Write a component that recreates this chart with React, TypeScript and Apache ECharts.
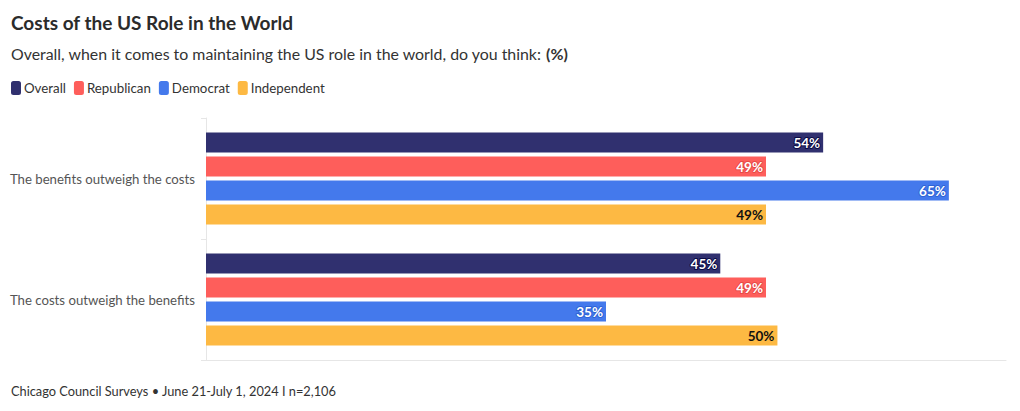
import React, { useEffect, useRef } from "react";
import * as echarts from "echarts";

const categories = ["The benefits outweigh the costs", "The costs outweigh the benefits"];
const seriesNames = ["Overall", "Republican", "Democrat", "Independent"];
const overall = [54, 45];
const republican = [49, 49];
const democrat = [65, 35];
const independent = [49, 50];
const colors = ["#30306f", "#fe5e5b", "#4479ec", "#fdb943"];
const labelColors = ["#ffffff", "#ffffff", "#ffffff", "#111111"];
const labelBorders = ["#0b0b45", "#e84a47", "#2f63d6", "transparent"];

const FONT = "Lato, 'Source Sans Pro', 'Noto Sans', sans-serif";

export default function App() {
  const ref = useRef<HTMLDivElement>(null);
  useEffect(() => {
    document.body.style.margin = "0";
    if (!ref.current) return;
    const chart = echarts.init(ref.current, undefined, { renderer: "svg" });
    const values = [overall, republican, democrat, independent];
    chart.setOption({
      animation: false,
      textStyle: { fontFamily: FONT },
      title: [
        {
          text: "Costs of the US Role in the World",
          left: 6,
          top: 8,
          textStyle: { fontSize: 19, fontWeight: "bold", color: "#2b2b2b", fontFamily: FONT },
        },
        {
          text: "{n|Overall, when it comes to maintaining the US role in the world, do you think: }{b|(%)}",
          left: 6,
          top: 40,
          textStyle: {
            fontWeight: "normal",
            rich: {
              n: { fontSize: 15.9, color: "#333333", fontWeight: "normal", fontFamily: FONT },
              b: { fontSize: 15.9, color: "#333333", fontWeight: "bold", fontFamily: FONT },
            },
          },
        },
        {
          text: "Chicago Council Surveys • June 21-July 1, 2024 I n=2,106",
          left: 6,
          top: 379,
          textStyle: { fontSize: 12.8, color: "#333333", fontWeight: "normal", fontFamily: FONT },
        },
      ],
      legend: {
        left: 6,
        top: 76,
        icon: "roundRect",
        itemWidth: 10,
        itemHeight: 14,
        itemGap: 8,
        textStyle: { fontSize: 13.3, color: "#333333", padding: [0, 0, 0, -2], fontFamily: FONT },
        data: seriesNames,
      },
      grid: { left: 206, top: 118, width: 800, height: 242, containLabel: false },
      xAxis: {
        type: "value",
        min: 0,
        max: 70,
        axisLabel: { show: false },
        splitLine: { show: false },
        axisTick: { show: false },
        axisLine: { show: true, lineStyle: { color: "#e6e6e6" } },
      },
      yAxis: {
        type: "category",
        data: categories,
        inverse: true,
        axisLine: { show: true, lineStyle: { color: "#e6e6e6" } },
        axisTick: { show: true, length: 5, lineStyle: { color: "#e6e6e6" } },
        axisLabel: { fontSize: 13.2, color: "#555555", margin: 11, fontFamily: FONT },
      },
      series: seriesNames.map((name, i) => ({
        name,
        type: "bar",
        data: values[i],
        barWidth: 20,
        barGap: "20%",
        itemStyle: { color: colors[i] },
        label: {
          show: true,
          position: "insideRight",
          distance: 3,
          formatter: "{c}%",
          fontSize: 13.5,
          fontWeight: "bold",
          fontFamily: FONT,
          color: labelColors[i],
          textBorderColor: labelBorders[i],
          textBorderWidth: i === 3 ? 0 : 2,
        },
      })),
    });
    return () => chart.dispose();
  }, []);
  return <div ref={ref} style={{ width: 1020, height: 411 }} />;
}
